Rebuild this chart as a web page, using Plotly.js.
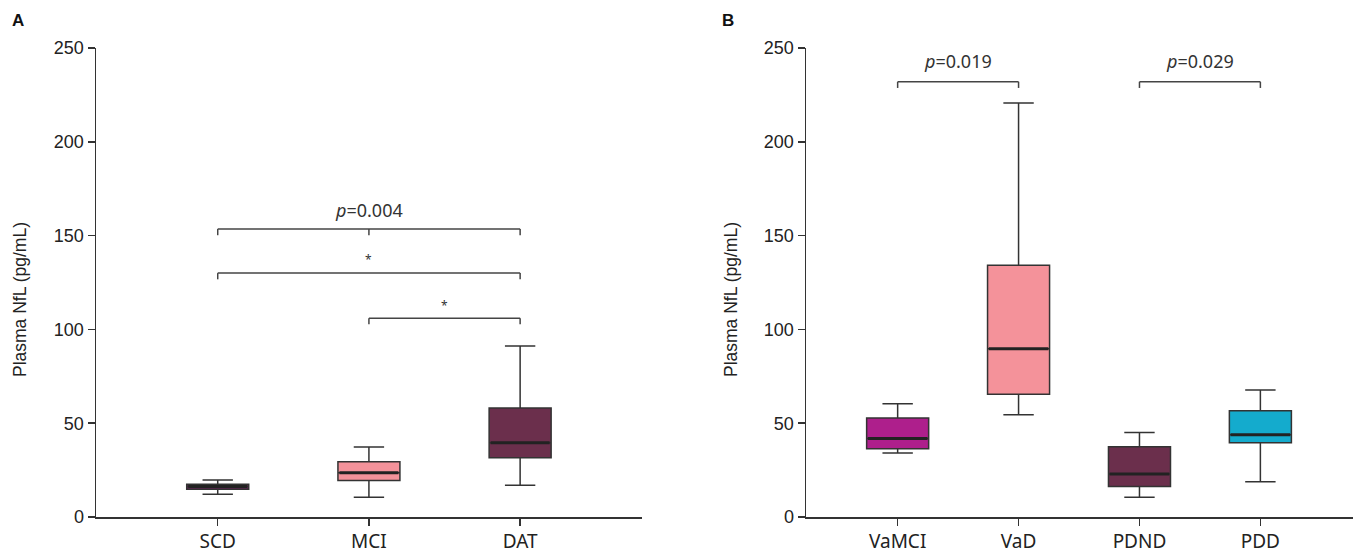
<!DOCTYPE html>
<html>
<head>
<meta charset="utf-8">
<script src="https://cdn.plot.ly/plotly-3.0.1.min.js"></script>
<style>html,body{margin:0;padding:0;background:#fff;}#chart{width:1354px;height:553px;}</style>
</head>
<body>
<div id="chart"></div>
<script>
// ---- Panel A data ----
const catsA = ["SCD", "MCI", "DAT"];
const lowA = [12.1, 10.5, 16.9];
const q1A = [14.8, 19.4, 31.6];
const medA = [16.2, 23.6, 39.6];
const q3A = [17.4, 29.5, 58.1];
const highA = [19.7, 37.3, 91.1];
const colorsA = ["#6a1e5a", "#f4929a", "#6b2f4c"];

// ---- Panel B data ----
const catsB = ["VaMCI", "VaD", "PDND", "PDD"];
const lowB = [34.1, 54.5, 10.5, 18.8];
const q1B = [36.4, 65.4, 16.2, 39.6];
const medB = [41.8, 89.7, 22.9, 43.9];
const q3B = [52.8, 134.2, 37.5, 56.7];
const highB = [60.4, 220.7, 45.1, 67.7];
const colorsB = ["#ae1f8c", "#f4929a", "#6b2f4c", "#14abcd"];

// ---- Significance brackets ----
const bracketsA = [
  {from: 0, to: 2, y: 153.5, label: "<i>p</i>=0.004", labelY: 163.5, mid: 1},
  {from: 0, to: 2, y: 130, label: "*", labelY: 137, mid: null},
  {from: 1, to: 2, y: 106, label: "*", labelY: 113, mid: null}
];
const bracketsB = [
  {from: 0, to: 1, y: 232, label: "<i>p</i>=0.019", labelY: 243, mid: null},
  {from: 2, to: 3, y: 232, label: "<i>p</i>=0.029", labelY: 243, mid: null}
];

const W = 1354, H = 553;
const lineCol = "#333333";
const boxWA = 0.41, boxWB = 0.513;

const traces = [];
const shapes = [];
const annotations = [];

function addBoxes(cats, lo, q1, md, q3, hi, cols, xa, ya, bw) {
  cats.forEach((c, i) => {
    traces.push({
      type: "box", x: [c], q1: [q1[i]], median: [md[i]], q3: [q3[i]],
      lowerfence: [lo[i]], upperfence: [hi[i]],
      fillcolor: cols[i], line: {color: lineCol, width: 1.5},
      width: bw, whiskerwidth: 0.49, boxpoints: false,
      xaxis: xa, yaxis: ya, showlegend: false, hoverinfo: "skip"
    });
    shapes.push({
      type: "line", xref: xa, yref: ya,
      x0: i - bw / 2 + 0.01, x1: i + bw / 2 - 0.01, y0: md[i], y1: md[i],
      line: {color: "#222222", width: 3}
    });
  });
}
addBoxes(catsA, lowA, q1A, medA, q3A, highA, colorsA, "x", "y", boxWA);
addBoxes(catsB, lowB, q1B, medB, q3B, highB, colorsB, "x2", "y2", boxWB);

function addBrackets(list, xa, ya) {
  list.forEach(b => {
    const drop = 3.3;
    const lc = {color: "#444444", width: 1.5};
    shapes.push({type: "line", xref: xa, yref: ya, x0: b.from, x1: b.to, y0: b.y, y1: b.y, line: lc});
    shapes.push({type: "line", xref: xa, yref: ya, x0: b.from, x1: b.from, y0: b.y, y1: b.y - drop, line: lc});
    shapes.push({type: "line", xref: xa, yref: ya, x0: b.to, x1: b.to, y0: b.y, y1: b.y - drop, line: lc});
    if (b.mid !== null) {
      shapes.push({type: "line", xref: xa, yref: ya, x0: b.mid, x1: b.mid, y0: b.y, y1: b.y - drop, line: lc});
    }
    const isStar = b.label === "*";
    annotations.push({
      xref: xa, yref: ya, x: (b.from + b.to) / 2, y: b.labelY, text: b.label,
      showarrow: false, font: {family: "Noto Sans, Open Sans, sans-serif", size: isStar ? 12 : 18, color: "#333333"}
    });
  });
}
addBrackets(bracketsA, "x", "y");
addBrackets(bracketsB, "x2", "y2");

// y titles and panel labels
const plotTop = 48, plotBot = 517, ph = plotBot - plotTop;
[[20, "Plasma NfL (pg/mL)"], [731, "Plasma NfL (pg/mL)"]].forEach(([px, t]) => {
  annotations.push({xref: "paper", yref: "paper", x: px / W, y: (plotBot - 300) / ph,
    text: t, textangle: -90, showarrow: false, xanchor: "center", yanchor: "middle",
    font: {family: "Liberation Sans, Arial, sans-serif", size: 17.5, color: "#222222"}});
});
[[18, "A"], [728, "B"]].forEach(([px, t]) => {
  annotations.push({xref: "paper", yref: "paper", x: px / W, y: (plotBot - 20) / ph,
    text: "<b>" + t + "</b>", showarrow: false, xanchor: "center", yanchor: "middle",
    font: {family: "Liberation Sans, Arial, sans-serif", size: 17, color: "#111111"}});
});

const xCommon = {
  type: "category", showline: true, linecolor: lineCol, linewidth: 1.5,
  ticks: "outside", ticklen: 7, tickwidth: 1.5, tickcolor: lineCol,
  tickfont: {family: "Noto Sans, Open Sans, sans-serif", size: 19, color: "#222222"},
  showgrid: false, zeroline: false, fixedrange: true
};
const yCommon = {
  range: [0, 250], dtick: 50, tick0: 0, showline: true, linecolor: lineCol, linewidth: 1.5,
  ticks: "outside", ticklen: 7, tickwidth: 1.5, tickcolor: lineCol,
  tickfont: {family: "Liberation Sans, Arial, sans-serif", size: 18, color: "#222222"},
  showgrid: false, zeroline: false, fixedrange: true, domain: [0, 1]
};

const layout = {
  width: W, height: H,
  margin: {l: 0, r: 0, t: plotTop, b: H - plotBot},
  paper_bgcolor: "#ffffff", plot_bgcolor: "#ffffff",
  boxmode: "overlay", showlegend: false,
  xaxis: Object.assign({}, xCommon, {domain: [96 / W, 642 / W], range: [-0.805, 2.806], categoryarray: catsA, categoryorder: "array", anchor: "y"}),
  yaxis: Object.assign({}, yCommon, {anchor: "x"}),
  xaxis2: Object.assign({}, xCommon, {domain: [806 / W, 1353 / W], range: [-0.758, 3.766], categoryarray: catsB, categoryorder: "array", anchor: "y2"}),
  yaxis2: Object.assign({}, yCommon, {anchor: "x2"}),
  shapes: shapes, annotations: annotations
};

Plotly.newPlot("chart", traces, layout, {displayModeBar: false, staticPlot: true});
</script>
</body>
</html>
